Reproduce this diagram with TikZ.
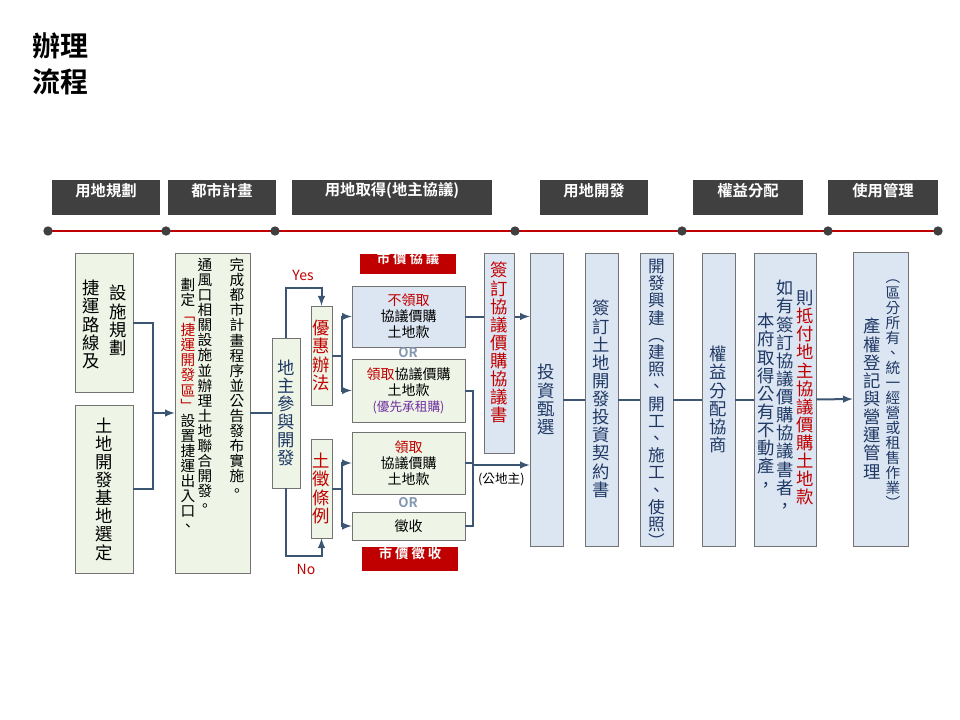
\documentclass[tikz,border=0pt]{standalone}
\usepackage{fontspec}
\setmainfont{Noto Sans CJK TC}[BoldFont={Noto Sans CJK TC Bold}]
\usetikzlibrary{fit}
\definecolor{boxgreen}{HTML}{EEF5E6}
\definecolor{boxblue}{HTML}{DCE6F2}
\definecolor{navy}{HTML}{1F3864}
\definecolor{darkred}{HTML}{C00000}
\definecolor{tabgray}{HTML}{404040}
\definecolor{purp}{HTML}{7030A0}
\definecolor{connblue}{HTML}{3B5573}
\definecolor{orgray}{HTML}{8497B0}

\ExplSyntaxOn
\NewDocumentCommand\vc{O{.}m}{
  \seq_clear:N \l_tmpa_seq
  \tl_map_inline:nn {#2}{\seq_put_right:Nn \l_tmpa_seq {\textcolor{#1}{##1}}}
  \seq_use:Nn \l_tmpa_seq {\\}
}
\ExplSyntaxOff

\tikzset{
  box/.style={draw=black!55, fill=boxgreen, inner sep=0},
  bbox/.style={draw=black!55, fill=boxblue, inner sep=0},
  tab/.style={fill=tabgray, text=white, inner sep=0, font=\fontsize{11.5}{12}\selectfont\bfseries},
  redtag/.style={fill=darkred, text=white, inner sep=0, font=\fontsize{10}{10}\selectfont\bfseries},
  col/.style={inner sep=0, align=center, font=\fontsize{13}{13.6}\selectfont},
  smallcol/.style={col, font=\fontsize{11}{11.3}\selectfont},
  hbox/.style={align=center, font=\fontsize{10.5}{12}\selectfont},
  conn/.style={draw=connblue, line width=1.5pt},
  dot/.style={circle, fill=tabgray, inner sep=0, minimum size=7pt},
}

\begin{document}
\begin{tikzpicture}[x=0.75pt,y=-0.75pt,>=latex]
\useasboundingbox (0,0) rectangle (960,720);

% title
\node[anchor=north west, align=left, inner sep=0, font=\fontsize{21}{27}\selectfont\bfseries] (title) at (32,32) {辦理\\流程};

% stages
\node[tab, fit={(52,180) (160,215)}] (t1) {用地規劃};
\node[tab, fit={(168,180) (276,215)}] (t2) {都市計畫};
\node[tab, fit={(292,180) (492,215)}] (t3) {用地取得(地主協議)};
\node[tab, fit={(540,180) (648,215)}] (t4) {用地開發};
\node[tab, fit={(693,180) (803,215)}] (t5) {權益分配};
\node[tab, fit={(828,180) (938,215)}] (t6) {使用管理};

% timeline
\draw[darkred, line width=2pt] (48,231) -- (938,231);
\foreach \x [count=\i] in {48,166,275,515,682,828,938}
  \node[dot] (d\i) at (\x,231) {};

% planning
\node[box, fit={(75,253) (133,392)}] (plan) {};
\node[col, anchor=north] at (118,285) {\vc{設施規劃}};
\node[col, anchor=north] at (91,280) {\vc{捷運路線及}};
\node[box, fit={(75,405) (133,573)}] (site) {};
\node[col] at (site) {\vc{土地開發基地選定}};

% urban plan
\node[box, fit={(175,253) (250,573)}] (urban) {};
\node[smallcol, anchor=north] at (237,258) {\vc{完成都市計畫程序並公告發布實施。}};
\node[smallcol, anchor=north] at (205,258) {\vc{通風口相關設施並辦理土地聯合開發。}};
\node[smallcol, anchor=north] at (188,278) {\vc{劃定}\\\vc[darkred]{﹁捷運開發區﹂}\\\vc{設置捷運出入口、}};

\coordinate (j1) at (153,413);
\draw[conn] (plan.east) -| (j1);
\draw[conn] (site.east) -| (j1);
\draw[conn,->] (j1) -- (urban.west);

% landowner
\node[box, fit={(272,338) (300,488)}] (owner) {};
\node[col, text=navy] at (owner) {\vc{地主參與開發}};
\draw[conn] (urban.east) -- (owner.west |- urban.east);

\node[box, fit={(311,306) (332,405)}] (pref) {};
\node[col, text=darkred] at (pref) {\vc{優惠辦法}};
\node[box, fit={(311,439) (332,538)}] (law) {};
\node[col, text=darkred] at (law) {\vc{土徵條例}};

\coordinate (yk) at (321.5,288);
\coordinate (nk) at (321.5,556);
\draw[conn,->] (owner.north) |- (yk) -- (pref.north);
\draw[conn,->] (owner.south) |- (nk) -- (law.south);
\node[darkred, font=\fontsize{10.5}{11}\selectfont] (yes) at (303,275) {Yes};
\node[darkred, font=\fontsize{10.5}{11}\selectfont] (no) at (306,569) {No};

% options
\node[redtag, fit={(360,254) (456,274)}] (tagA) {市 價 協 議};
\node[bbox, fit={(352,286) (465,347)}] (optA) {};
\node[hbox] at (optA) {\textcolor{darkred}{不領取}\\協議價購\\土地款};
\node[font=\fontsize{10}{10}\selectfont\bfseries, text=orgray] (or1) at (408,353) {OR};
\node[box, fit={(352,359) (465,422)}] (optB) {};
\node[hbox] at (optB) {\textcolor{darkred}{領取}協議價購\\土地款\\{\fontsize{9.5}{11}\selectfont\textcolor{purp}{(優先承租購)}}};
\node[box, fit={(352,432) (465,494)}] (optC) {};
\node[hbox] at (optC) {\textcolor{darkred}{領取}\\協議價購\\土地款};
\node[font=\fontsize{10}{10}\selectfont\bfseries, text=orgray] (or2) at (408,503) {OR};
\node[box, fit={(352,512) (465,540)}] (optD) {};
\node[hbox] at (optD) {徵收};
\node[redtag, fit={(362,547) (458,571)}] (tagB) {市 價 徵 收};

\coordinate (pb) at (342,355.5);
\coordinate (lb) at (342,488.5);
\draw[conn] (pref.east) -- (pb);
\draw[conn,->] (pb) |- (optA.west);
\draw[conn,->] (pb) |- (optB.west);
\draw[conn] (law.east) -- (lb);
\draw[conn,->] (lb) |- (optC.west);
\draw[conn,->] (lb) |- (optD.west);

% development chain
\node[bbox, fit={(530,253) (563,546)}] (inv) {};
\node[col, text=navy] at (inv) {\vc{投資甄選}};
\node[bbox, fit={(585,253) (618,546)}] (contract) {};
\node[col, text=navy, anchor=north] at (601.5,300) {\vc{簽訂土地開發投資契約書}};
\node[bbox, fit={(640,253) (673,546)}] (build) {};
\node[col, text=navy, anchor=north, font=\fontsize{12.5}{12.9}\selectfont] at (656.5,259) {\vc{開發興建︵建照、開工、施工、使照︶}};
\node[bbox, fit={(702,253) (735,546)}] (share) {};
\node[col, text=navy] at (share) {\vc{權益分配協商}};
\node[bbox, fit={(754,253) (816,546)}] (offset) {};
\node[col, text=navy, anchor=north] at (805,290) {\vc{則}\\\vc[darkred]{抵付地主協議價購土地款}};
\node[col, text=navy, anchor=north] at (785,280) {\vc{如有簽訂協議價購協議書者，}};
\node[col, text=navy, anchor=north] at (766,313) {\vc{本府取得公有不動產，}};
\node[bbox, fit={(853,252) (908,546)}] (manage) {};
\node[smallcol, text=navy, anchor=north] at (893,280) {\vc{︵區分所有、統一經營或租售作業︶}};
\node[col, text=navy, anchor=north] at (872,318) {\vc{產權登記與營運管理}};

\draw[conn,->] (optA.east) -- (inv.west |- optA.east);
\coordinate (rm) at (473,465);
\draw[conn] (optB.east) -| (rm);
\draw[conn] (optC.east) -| (rm);
\draw[conn] (optD.east) -| (rm);
\draw[conn,->] (rm) -- (inv.west |- rm)
  node[pos=0.5, below=2pt, text=black, font=\fontsize{9.5}{10}\selectfont] {(公地主)};

\node[bbox, fit={(484,253) (514,453)}] (sign) {};
\node[col, text=darkred, anchor=north] at (499,262) {\vc{簽訂協議價購協議書}};

\draw[conn] (inv.east) -- (contract.west);
\draw[conn] (contract.east) -- (build.west);
\draw[conn] (build.east) -- (share.west);
\draw[conn] (share.east) -- (offset.west);
\draw[conn,->] (offset.east) -- (manage.west);
\end{tikzpicture}
\end{document}
